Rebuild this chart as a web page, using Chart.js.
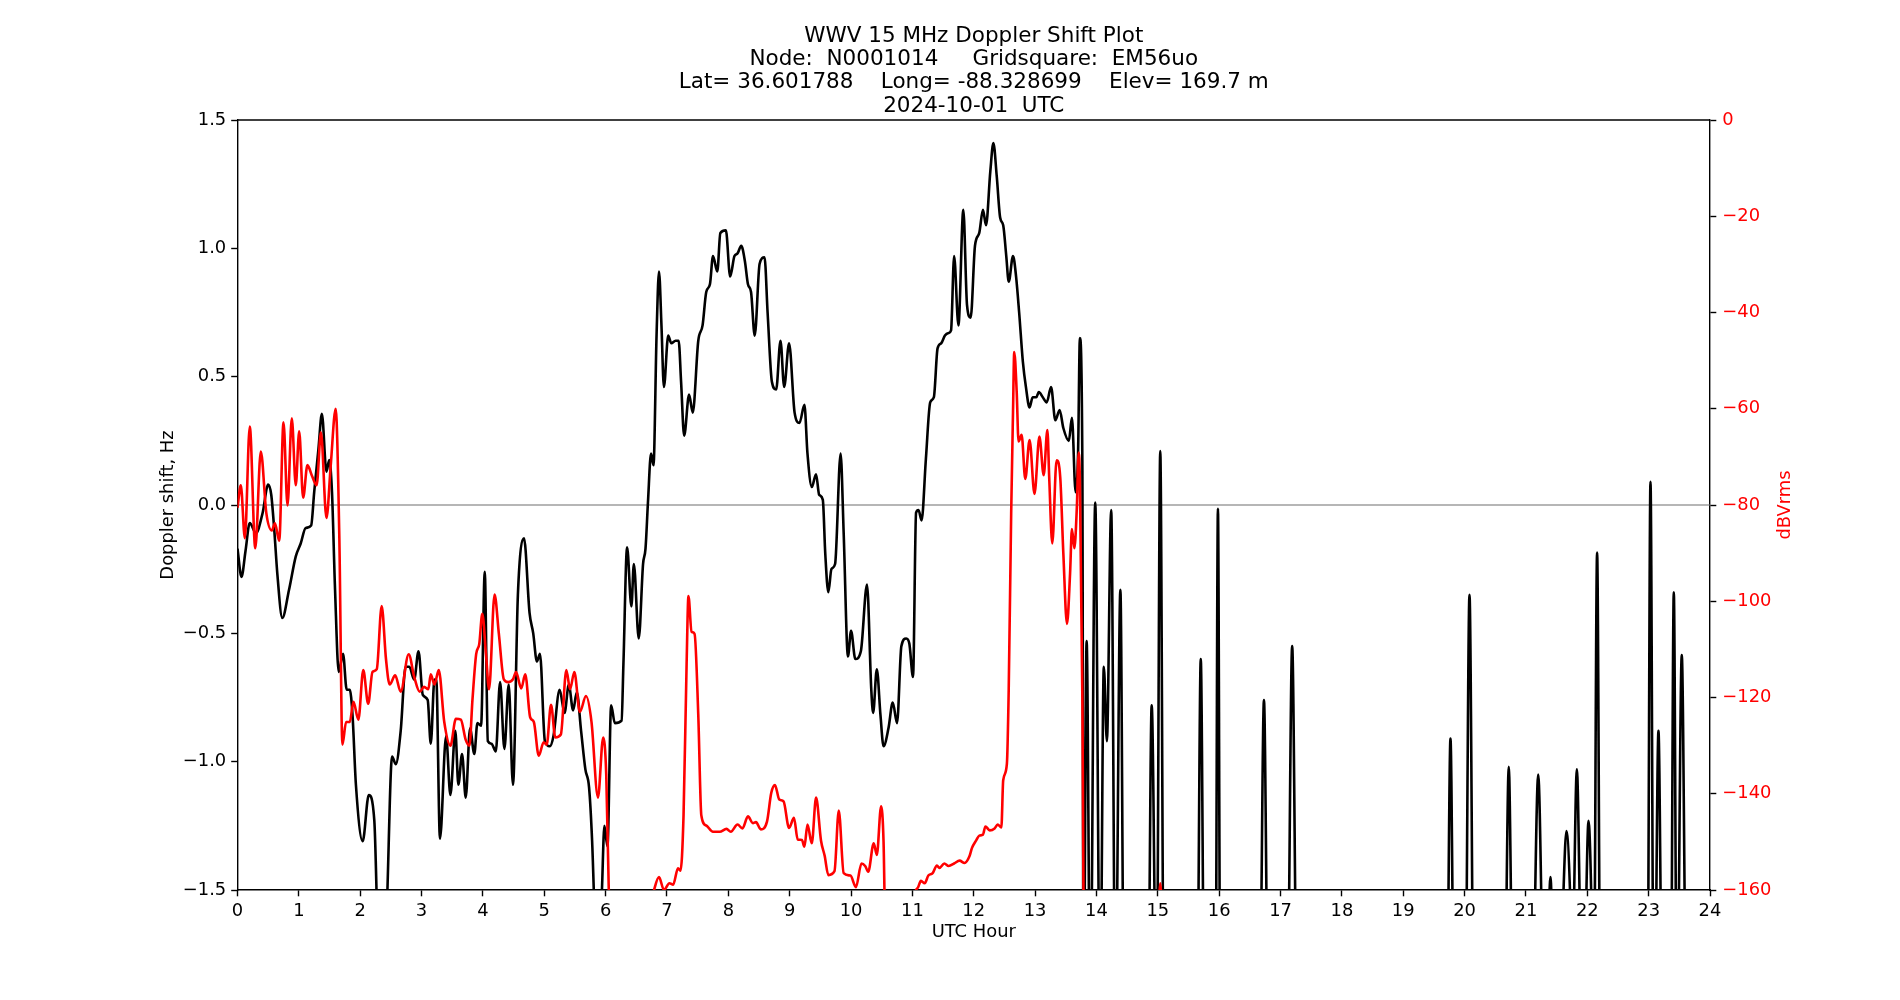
<!DOCTYPE html>
<html>
<head>
<meta charset="utf-8">
<title>WWV 15 MHz Doppler Shift Plot</title>
<script src="https://cdn.jsdelivr.net/npm/chart.js@4.4.1/dist/chart.umd.min.js"></script>
<style>
  html, body { margin: 0; padding: 0; background: #fff; }
  #wrap { width: 1900px; height: 1000px; }
</style>
</head>
<body>
<div id="wrap"><canvas id="chart" width="1900" height="1000"></canvas></div>
<script>
const titleLines = [
  'WWV 15 MHz Doppler Shift Plot',
  'Node:  N0001014     Gridsquare:  EM56uo',
  'Lat= 36.601788    Long= -88.328699    Elev= 169.7 m',
  '2024-10-01  UTC'
];
const xLabel = 'UTC Hour';
const yLabel = 'Doppler shift, Hz';
const y2Label = 'dBVrms';

// [UTC hour, Doppler shift Hz] - main trace
const dopplerTrace = [
  [0.00,-0.17],[0.065,-0.28],[0.13,-0.18],[0.20,-0.07],[0.30,-0.11],[0.41,-0.03],[0.50,0.08],[0.55,0.04],[0.60,-0.10],[0.65,-0.27],
  [0.73,-0.44],[0.84,-0.33],[0.95,-0.20],[1.03,-0.15],[1.11,-0.09],[1.20,-0.08],[1.25,0.05],[1.32,0.22],[1.375,0.355],[1.45,0.13],
  [1.495,0.175],[1.54,0.05],[1.59,-0.33],[1.65,-0.65],[1.72,-0.58],[1.78,-0.72],[1.83,-0.72],[1.875,-0.82],[1.93,-1.09],[2.04,-1.31],
  [2.14,-1.13],[2.23,-1.23],[2.29,-1.70],[2.36,-1.95],[2.43,-1.60],[2.52,-0.98],[2.58,-1.01],[2.66,-0.88],[2.74,-0.63],[2.80,-0.63],
  [2.88,-0.68],[2.95,-0.57],[3.02,-0.74],[3.10,-0.76],[3.15,-0.93],[3.21,-0.68],[3.24,-0.68],[3.30,-1.30],[3.40,-0.90],[3.47,-1.13],
  [3.55,-0.88],[3.60,-1.09],[3.66,-0.97],[3.72,-1.14],[3.79,-0.87],[3.86,-0.97],[3.91,-0.85],[3.97,-0.86],[4.03,-0.26],[4.08,-0.92],
  [4.14,-0.93],[4.21,-0.96],[4.28,-0.69],[4.35,-0.95],[4.42,-0.70],[4.49,-1.09],[4.57,-0.35],[4.67,-0.13],[4.76,-0.42],[4.82,-0.50],
  [4.88,-0.61],[4.93,-0.58],[5.01,-0.92],[5.09,-0.94],[5.15,-0.90],[5.25,-0.72],[5.33,-0.81],[5.40,-0.70],[5.47,-0.80],[5.53,-0.73],
  [5.60,-0.88],[5.67,-1.03],[5.73,-1.10],[5.78,-1.31],[5.83,-1.65],[5.89,-1.80],[5.94,-1.50],[5.98,-1.25],[6.03,-1.33],[6.09,-0.78],
  [6.15,-0.85],[6.26,-0.84],[6.29,-0.62],[6.35,-0.165],[6.42,-0.395],[6.46,-0.23],[6.54,-0.52],[6.61,-0.23],[6.65,-0.17],[6.69,0.01],
  [6.74,0.20],[6.78,0.155],[6.83,0.66],[6.87,0.91],[6.91,0.70],[6.95,0.46],[7.02,0.66],[7.07,0.63],[7.14,0.64],[7.19,0.64],
  [7.23,0.48],[7.28,0.27],[7.36,0.43],[7.42,0.36],[7.51,0.64],[7.58,0.70],[7.64,0.83],[7.70,0.86],[7.75,0.97],[7.82,0.91],
  [7.87,1.06],[7.96,1.07],[8.03,0.89],[8.10,0.97],[8.15,0.98],[8.21,1.01],[8.27,0.95],[8.32,0.86],[8.37,0.83],[8.43,0.66],
  [8.51,0.94],[8.59,0.965],[8.64,0.75],[8.71,0.48],[8.78,0.45],[8.85,0.64],[8.91,0.46],[8.99,0.63],[9.08,0.36],[9.16,0.32],
  [9.24,0.39],[9.29,0.20],[9.36,0.07],[9.43,0.12],[9.48,0.04],[9.54,0.02],[9.58,-0.19],[9.63,-0.34],[9.68,-0.25],[9.74,-0.23],
  [9.83,0.20],[9.88,-0.11],[9.95,-0.59],[10.00,-0.49],[10.07,-0.60],[10.16,-0.57],[10.26,-0.31],[10.33,-0.72],[10.36,-0.81],[10.42,-0.64],
  [10.48,-0.82],[10.53,-0.94],[10.61,-0.87],[10.68,-0.77],[10.75,-0.85],[10.82,-0.55],[10.90,-0.52],[10.95,-0.54],[11.01,-0.67],[11.06,-0.03],
  [11.10,-0.02],[11.15,-0.06],[11.22,0.18],[11.29,0.40],[11.35,0.42],[11.41,0.61],[11.47,0.63],[11.53,0.66],[11.59,0.67],[11.63,0.68],
  [11.68,0.97],[11.75,0.70],[11.83,1.15],[11.89,0.78],[11.95,0.73],[12.02,1.01],[12.09,1.06],[12.15,1.15],[12.20,1.09],[12.27,1.30],
  [12.32,1.41],[12.375,1.28],[12.43,1.12],[12.48,1.09],[12.53,0.97],[12.57,0.87],[12.64,0.97],[12.69,0.89],[12.74,0.75],[12.80,0.56],
  [12.85,0.46],[12.91,0.38],[12.96,0.42],[13.02,0.42],[13.06,0.44],[13.125,0.42],[13.19,0.40],[13.26,0.46],[13.33,0.33],[13.40,0.37],
  [13.46,0.30],[13.55,0.25],[13.60,0.34],[13.66,0.05],[13.70,0.20],[13.73,0.65],[13.77,0.17]
];

// [UTC hour, Doppler shift Hz] - isolated detections after 13.8 UTC
const dopplerSpikes = [
  [13.79,-2],[13.84,-0.53],[13.90,-2],[13.98,0.01],[14.06,-2],[14.12,-0.63],[14.17,-0.92],[14.24,-0.02],[14.31,-2],
  [14.39,-0.33],[14.45,-2],[14.84,-2],[14.90,-0.78],[14.98,-2],[15.04,0.21],[15.10,-2],
  [15.64,-2],[15.70,-0.60],[15.76,-2],[15.94,-2],[15.98,-0.015],[16.02,-2],
  [16.66,-2],[16.73,-0.76],[16.80,-2],[17.11,-2],[17.19,-0.55],[17.27,-2],
  [19.71,-2],[19.77,-0.91],[19.83,-2],[20.01,-2],[20.08,-0.35],[20.15,-2],
  [20.65,-2],[20.72,-1.02],[20.79,-2],[21.10,-2],[21.20,-1.05],[21.30,-2],
  [21.37,-1.6],[21.40,-1.45],[21.43,-1.6],[21.57,-1.7],[21.66,-1.27],[21.745,-1.7],
  [21.755,-1.8],[21.83,-1.03],[21.905,-1.8],[21.95,-1.8],[22.02,-1.23],[22.09,-1.8],
  [22.105,-2],[22.16,-0.185],[22.215,-2],[22.98,-2],[23.03,0.09],[23.083,-2],
  [23.097,-2],[23.16,-0.88],[23.223,-2],[23.36,-2],[23.41,-0.34],[23.46,-2],
  [23.464,-2],[23.54,-0.585],[23.616,-2],[24.00,-2]
];

// [UTC hour, dBVrms]
const levelTrace = [
  [0.00,-80.6],[0.054,-75.9],[0.12,-86.9],[0.20,-63.7],[0.29,-89.0],[0.38,-68.9],[0.47,-81.7],[0.56,-85.3],[0.61,-83.8],[0.68,-87.4],
  [0.75,-62.8],[0.815,-80.1],[0.885,-62.0],[0.95,-75.9],[1.005,-64.7],[1.07,-78.5],[1.14,-71.7],[1.21,-73.8],[1.29,-75.9],[1.36,-64.9],
  [1.45,-82.7],[1.52,-71.7],[1.60,-60.0],[1.66,-86.9],[1.71,-129.8],[1.77,-125.1],[1.83,-125.1],[1.89,-120.9],[1.97,-124.6],[2.05,-114.3],
  [2.13,-121.3],[2.20,-114.7],[2.27,-114.1],[2.35,-101.0],[2.42,-112.0],[2.48,-117.3],[2.57,-115.4],[2.66,-118.8],[2.79,-111.0],[2.88,-115.7],
  [2.97,-118.8],[3.04,-117.8],[3.11,-118.3],[3.15,-115.2],[3.21,-117.3],[3.28,-114.3],[3.37,-125.1],[3.47,-130.0],[3.56,-124.4],[3.64,-124.6],
  [3.72,-128.8],[3.78,-130.0],[3.83,-120.4],[3.89,-111.0],[3.94,-108.9],[3.99,-102.6],[4.05,-111.0],[4.10,-118.3],[4.19,-98.6],[4.26,-106.8],
  [4.34,-116.2],[4.41,-116.8],[4.49,-116.2],[4.54,-114.7],[4.625,-118.1],[4.69,-115.2],[4.77,-124.1],[4.83,-125.1],[4.91,-132.1],[4.99,-129.3],
  [5.04,-129.8],[5.11,-121.5],[5.18,-128.3],[5.27,-127.7],[5.36,-114.3],[5.42,-118.3],[5.49,-114.7],[5.58,-123.0],[5.68,-119.7],[5.77,-125.1],
  [5.875,-140.8],[5.96,-128.3],[6.01,-136.0],[6.06,-165],[6.10,-175],[6.60,-175],[6.74,-163],[6.80,-159.5],[6.87,-157.3],[6.95,-160.0],
  [7.04,-158.6],[7.10,-158.9],[7.18,-155.5],[7.22,-156.0],[7.27,-144.5],[7.32,-113.0],[7.35,-98.9],[7.40,-106.3],[7.45,-106.8],[7.51,-123.6],
  [7.56,-144.5],[7.64,-146.6],[7.75,-147.9],[7.86,-147.9],[7.97,-147.3],[8.04,-147.9],[8.15,-146.4],[8.23,-147.2],[8.32,-144.7],[8.40,-146.1],
  [8.45,-145.9],[8.53,-147.4],[8.63,-145.8],[8.70,-139.8],[8.76,-138.2],[8.83,-141.2],[8.90,-141.6],[8.99,-147.1],[9.07,-145.0],[9.13,-149.5],
  [9.20,-149.6],[9.24,-151.0],[9.29,-146.4],[9.36,-150.3],[9.43,-140.8],[9.51,-149.7],[9.57,-152.9],[9.63,-156.9],[9.73,-156.1],[9.80,-143.5],
  [9.88,-156.5],[9.99,-157.0],[10.08,-159.4],[10.17,-154.5],[10.23,-155.0],[10.28,-156.2],[10.37,-150.3],[10.42,-152.7],[10.49,-142.6],[10.53,-150.0],
  [10.56,-170],[10.62,-175],[10.98,-175],[11.04,-161],[11.09,-159.5],[11.14,-158.1],[11.20,-158.6],[11.26,-157.0],[11.33,-156.5],[11.40,-154.9],
  [11.44,-155.4],[11.52,-154.5],[11.59,-155.0],[11.68,-154.5],[11.77,-153.9],[11.85,-154.4],[11.93,-153.0],[11.97,-151.3],[12.04,-149.7],[12.09,-148.7],
  [12.15,-148.5],[12.19,-146.8],[12.26,-147.6],[12.34,-147.2],[12.39,-146.4],[12.45,-147.0],[12.48,-137.2],[12.54,-133.8],[12.57,-118.3],[12.61,-81.7],
  [12.64,-60.7],[12.66,-48.2],[12.70,-56.5],[12.73,-66.8],[12.78,-65.4],[12.84,-74.6],[12.91,-66.5],[12.99,-77.7],[13.07,-65.8],[13.14,-73.8],
  [13.20,-64.4],[13.23,-74.3],[13.28,-88.0],[13.35,-70.7],[13.41,-74.3],[13.46,-90.0],[13.52,-104.7],[13.57,-94.2],[13.60,-85.0],[13.64,-89.0],
  [13.68,-80.6],[13.71,-69.1],[13.73,-75.0],[13.77,-120.0],[13.80,-175],[14.98,-175],[15.04,-158.6],[15.10,-175],[24.00,-175]
];

const toPoints = rows => rows.map(r => ({ x: r[0], y: r[1] }));
const minus = v => (v < 0 ? '\u2212' : '') + Math.abs(v);

const FONT = '"DejaVu Sans", sans-serif';
const TICK_PX = 17.9;
Chart.defaults.font.family = FONT;

// title, axis labels and top spine (matplotlib-like)
const textPlugin = {
  id: 'texts',
  afterDraw(chart) {
    const { ctx, chartArea: a } = chart;
    const cx = (a.left + a.right) / 2;
    const cy = (a.top + a.bottom) / 2;
    ctx.save();
    ctx.strokeStyle = '#000';
    ctx.lineWidth = 1.4;
    ctx.beginPath();
    ctx.moveTo(a.left, a.top);
    ctx.lineTo(a.right, a.top);
    ctx.stroke();

    ctx.fillStyle = '#000';
    ctx.textAlign = 'center';
    ctx.textBaseline = 'alphabetic';
    ctx.font = '21.5px ' + FONT;
    titleLines.forEach((t, i) => ctx.fillText(t, cx, 41.7 + i * 23.3));

    ctx.font = TICK_PX + 'px ' + FONT;
    ctx.fillText(xLabel, cx, 936.7);

    ctx.save();
    ctx.translate(172.5, cy);
    ctx.rotate(-Math.PI / 2);
    ctx.fillText(yLabel, 0, 0);
    ctx.restore();

    ctx.save();
    ctx.fillStyle = 'red';
    ctx.translate(1790, cy);
    ctx.rotate(-Math.PI / 2);
    ctx.fillText(y2Label, 0, 0);
    ctx.restore();
    ctx.restore();
  }
};

const axisCommon = {
  grid: { drawOnChartArea: false, tickLength: 6.3, tickColor: '#000', tickWidth: 1.4 },
  border: { color: '#000', width: 1.4 }
};

new Chart(document.getElementById('chart'), {
  type: 'line',
  data: {
    datasets: [
      {
        label: 'Signal level',
        data: toPoints(levelTrace),
        yAxisID: 'yDb',
        borderColor: 'red',
        borderWidth: 2.6,
        pointRadius: 0,
        cubicInterpolationMode: 'monotone'
      },
      {
        label: 'Doppler shift',
        data: toPoints(dopplerTrace.concat(dopplerSpikes)),
        yAxisID: 'y',
        borderColor: '#000',
        borderWidth: 2.6,
        pointRadius: 0,
        cubicInterpolationMode: 'monotone'
      },
      {
        label: 'zero',
        data: [{ x: 0, y: 0 }, { x: 24, y: 0 }],
        yAxisID: 'y',
        borderColor: '#6e6e6e',
        borderWidth: 1.2,
        pointRadius: 0
      }
    ]
  },
  options: {
    responsive: false,
    animation: false,
    devicePixelRatio: 1,
    layout: { padding: { top: 120, left: 0, right: 0, bottom: 0 } },
    plugins: { legend: { display: false }, tooltip: { enabled: false } },
    scales: {
      x: {
        ...axisCommon,
        type: 'linear',
        min: 0,
        max: 24,
        ticks: { stepSize: 1, autoSkip: false, maxRotation: 0, color: '#000', font: { size: TICK_PX }, padding: 4 },
        afterFit: s => { s.height = 110; s.paddingLeft = 0; s.paddingRight = 0; }
      },
      y: {
        ...axisCommon,
        position: 'left',
        min: -1.5,
        max: 1.5,
        ticks: { stepSize: 0.5, color: '#000', font: { size: TICK_PX }, padding: 5, callback: v => (v < 0 ? '\u2212' : '') + Math.abs(v).toFixed(1) },
        afterFit: s => { s.width = 237.5; s.paddingTop = 0; s.paddingBottom = 0; }
      },
      yDb: {
        ...axisCommon,
        position: 'right',
        min: -160,
        max: 0,
        ticks: { stepSize: 20, color: 'red', font: { size: TICK_PX }, padding: 6, callback: v => minus(v) },
        afterFit: s => { s.width = 190; s.paddingTop = 0; s.paddingBottom = 0; }
      }
    }
  },
  plugins: [textPlugin]
});
</script>
</body>
</html>
